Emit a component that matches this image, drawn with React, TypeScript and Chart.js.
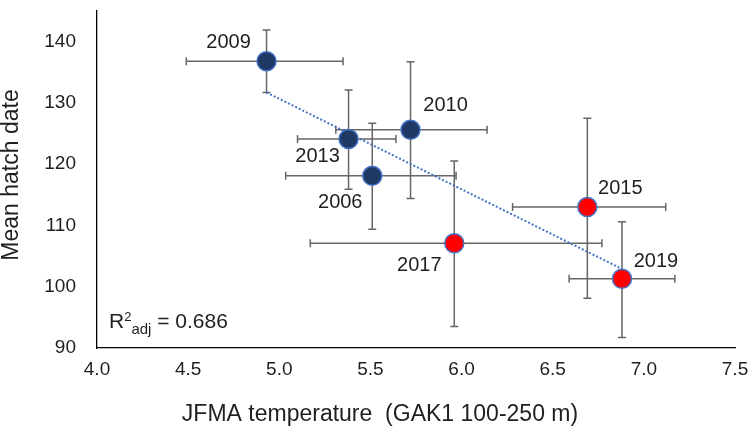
import React, { useEffect, useRef } from "react";
import { Chart, registerables } from "chart.js";

Chart.register(...registerables);

// ---- data ----
const years = ["2009", "2010", "2013", "2006", "2017", "2015", "2019"];
const temperature = [4.93, 5.72, 5.38, 5.51, 5.96, 6.69, 6.88];
const hatchDate = [136.8, 125.6, 124.1, 118.1, 107.1, 113.0, 101.3];
const tempLow = [4.49, 5.31, 5.1, 5.035, 5.17, 6.28, 6.59];
const tempHigh = [5.35, 6.14, 5.64, 5.97, 6.77, 7.12, 7.17];
const dateLow = [131.7, 114.4, 115.9, 109.4, 93.5, 98.1, 91.7];
const dateHigh = [141.9, 136.7, 132.1, 126.7, 120.5, 127.5, 110.6];
const recentGroup = [false, false, false, false, true, true, true];
const trendX = [4.93, 6.88];
const trendY = [131.7, 102.9];
const xTicks = [4.0, 4.5, 5.0, 5.5, 6.0, 6.5, 7.0, 7.5];
const yTicks = [90, 100, 110, 120, 130, 140];
const r2Value = "0.686";
const xTitle = "JFMA temperature  (GAK1 100-250 m)";
const yTitle = "Mean hatch date";

// ---- styles ----
const FONT = '"Liberation Sans", Arial, Helvetica, sans-serif';
const TEXT = "#1f1f1f";
const NAVY = "#203864";
const RED = "#FF0000";
const EDGE = "#4472C4";
const ERR = "#666666";
const LABEL_OFFSETS: [number, number][] = [
  [-38, -19],
  [35, -24],
  [-31, 17],
  [-32, 27],
  [-35, 22],
  [33, -19],
  [34, -17],
];

const overlay = {
  id: "overlay",
  beforeDatasetsDraw(chart: any) {
    const ctx = chart.ctx;
    const xs = chart.scales.x;
    const ys = chart.scales.y;
    ctx.save();
    ctx.strokeStyle = ERR;
    ctx.lineWidth = 1.5;
    const cap = 4;
    for (let i = 0; i < years.length; i++) {
      const px = xs.getPixelForValue(temperature[i]);
      const py = ys.getPixelForValue(hatchDate[i]);
      const xl = xs.getPixelForValue(tempLow[i]);
      const xh = xs.getPixelForValue(tempHigh[i]);
      const yl = ys.getPixelForValue(dateLow[i]);
      const yh = ys.getPixelForValue(dateHigh[i]);
      ctx.beginPath();
      ctx.moveTo(xl, py);
      ctx.lineTo(xh, py);
      ctx.moveTo(xl, py - cap);
      ctx.lineTo(xl, py + cap);
      ctx.moveTo(xh, py - cap);
      ctx.lineTo(xh, py + cap);
      ctx.moveTo(px, yl);
      ctx.lineTo(px, yh);
      ctx.moveTo(px - cap, yl);
      ctx.lineTo(px + cap, yl);
      ctx.moveTo(px - cap, yh);
      ctx.lineTo(px + cap, yh);
      ctx.stroke();
    }
    ctx.restore();
  },
  afterDatasetsDraw(chart: any) {
    const ctx = chart.ctx;
    const xs = chart.scales.x;
    const ys = chart.scales.y;
    ctx.save();
    ctx.fillStyle = TEXT;
    ctx.font = `20px ${FONT}`;
    ctx.textAlign = "center";
    ctx.textBaseline = "middle";
    for (let i = 0; i < years.length; i++) {
      const px = xs.getPixelForValue(temperature[i]);
      const py = ys.getPixelForValue(hatchDate[i]);
      ctx.fillText(years[i], px + LABEL_OFFSETS[i][0], py + LABEL_OFFSETS[i][1]);
    }
    // R² adj
    const area = chart.chartArea;
    let x = area.left + 12;
    const base = area.bottom - 20;
    ctx.textAlign = "left";
    ctx.textBaseline = "alphabetic";
    ctx.font = `21px ${FONT}`;
    ctx.fillText("R", x, base);
    x += ctx.measureText("R").width;
    ctx.font = `13px ${FONT}`;
    ctx.fillText("2", x, base - 7);
    x += ctx.measureText("2").width;
    ctx.font = `15px ${FONT}`;
    ctx.fillText("adj", x, base + 6);
    x += ctx.measureText("adj").width;
    ctx.font = `21px ${FONT}`;
    ctx.fillText(" = " + r2Value, x, base);
    ctx.restore();
  },
  afterDraw(chart: any) {
    const ctx = chart.ctx;
    ctx.save();
    ctx.fillStyle = TEXT;
    ctx.textAlign = "center";
    ctx.textBaseline = "middle";
    ctx.font = `23px ${FONT}`;
    ctx.fillText(xTitle, 380, 415);
    ctx.translate(12, 175);
    ctx.rotate(-Math.PI / 2);
    ctx.font = `23px ${FONT}`;
    ctx.fillText(yTitle, 0, 0);
    ctx.restore();
  },
};

export default function App() {
  const ref = useRef<HTMLCanvasElement>(null);
  useEffect(() => {
    const canvas = ref.current;
    if (!canvas) return;
    const points = temperature.map((t, i) => ({ x: t, y: hatchDate[i] }));
    const trend = trendX.map((t, i) => ({ x: t, y: trendY[i] }));
    const chart = new Chart(canvas, {
      type: "scatter",
      data: {
        datasets: [
          {
            label: "Mean hatch date",
            data: points,
            pointRadius: 9.5,
            pointHoverRadius: 9.5,
            pointBackgroundColor: recentGroup.map((r) => (r ? RED : NAVY)),
            pointBorderColor: EDGE,
            pointBorderWidth: 1.5,
            order: 0,
          },
          {
            type: "line",
            label: "Trend",
            data: trend,
            borderColor: EDGE,
            borderWidth: 2,
            borderDash: [2, 2],
            pointRadius: 0,
            showLine: true,
            fill: false,
            order: 1,
          } as any,
        ],
      },
      options: {
        animation: false,
        responsive: false,
        devicePixelRatio: 1,
        layout: { padding: { top: 1.5, right: 14, bottom: 0, left: 0 } },
        plugins: { legend: { display: false }, tooltip: { enabled: false } },
        scales: {
          x: {
            type: "linear",
            min: 4,
            max: 7.5,
            grid: { display: false, drawTicks: false, tickLength: 0 },
            border: { display: true, color: "#000", width: 1.3 },
            ticks: {
              color: TEXT,
              font: { family: FONT, size: 19 },
              padding: 10,
              autoSkip: false,
              maxRotation: 0,
              callback: (v: any) => Number(v).toFixed(1),
            },
            afterBuildTicks: (s: any) => {
              s.ticks = xTicks.map((v) => ({ value: v }));
            },
            afterFit: (s: any) => {
              s.height = 80;
              s.paddingLeft = 0;
              s.paddingRight = 0;
            },
          },
          y: {
            type: "linear",
            min: 90,
            max: 145,
            grid: { display: false, drawTicks: false, tickLength: 0 },
            border: { display: true, color: "#000", width: 1.3 },
            ticks: {
              color: TEXT,
              font: { family: FONT, size: 19 },
              padding: 21,
              autoSkip: false,
            },
            afterBuildTicks: (s: any) => {
              s.ticks = yTicks.map((v) => ({ value: v }));
            },
            afterFit: (s: any) => {
              s.width = 97;
              s.paddingTop = 0;
              s.paddingBottom = 0;
            },
          },
        },
      },
      plugins: [overlay],
    });
    return () => chart.destroy();
  }, []);
  return (
    <div style={{ position: "absolute", left: 0, top: 0, width: 749, height: 428, background: "#fff" }}>
      <canvas ref={ref} width={749} height={428} style={{ display: "block" }} />
    </div>
  );
}
